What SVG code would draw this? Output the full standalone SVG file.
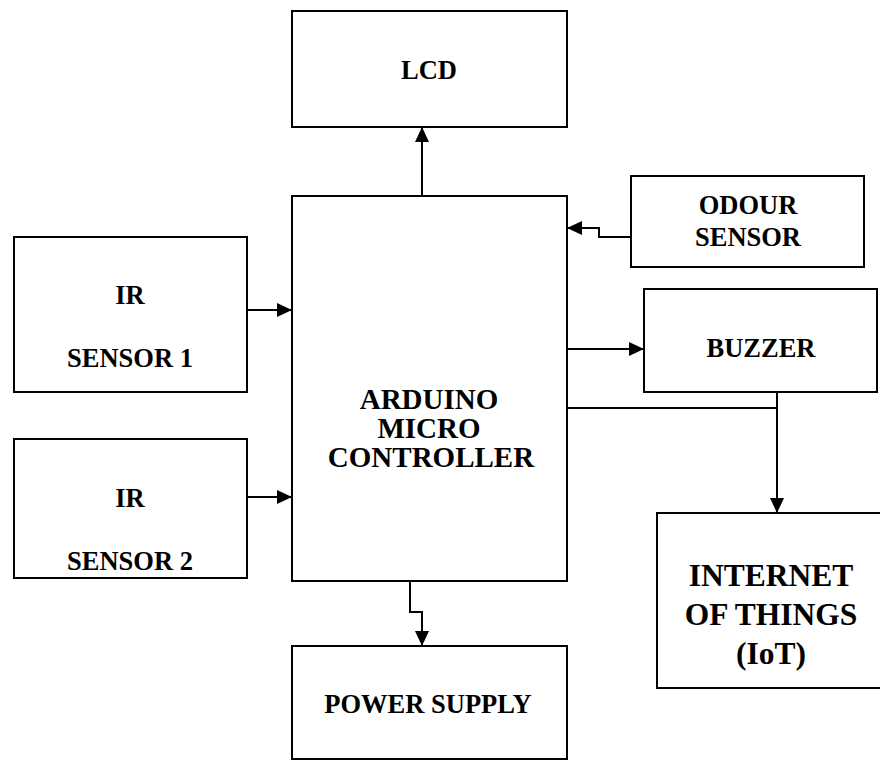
<svg xmlns="http://www.w3.org/2000/svg" width="880" height="761" viewBox="0 0 880 761">
<defs>
<style>
.box{fill:#fff;stroke:#000;stroke-width:2}
.lbl{font-family:"Liberation Serif","Times New Roman",serif;font-weight:bold;font-size:26.5px;text-anchor:middle;fill:#000}
.big{font-size:29px}
.iot{font-size:31.5px}
.con{fill:none;stroke:#000;stroke-width:2}
</style>
<marker id="arr" markerUnits="userSpaceOnUse" markerWidth="16" markerHeight="15" refX="15" refY="7" orient="auto">
<path d="M0,0 L15,7 L0,14 z" fill="#000"/>
</marker>
</defs>
<rect width="880" height="761" fill="#fff"/>
<g id="lcd">
<rect class="box" x="292" y="11" width="275" height="116"/>
<text class="lbl" x="429" y="79">LCD</text>
</g>
<g id="arduino">
<rect class="box" x="292" y="196" width="275" height="385"/>
<text class="lbl big" x="429" y="409">ARDUINO</text>
<text class="lbl big" x="429" y="438">MICRO</text>
<text class="lbl big" x="431" y="467">CONTROLLER</text>
</g>
<g id="odour">
<rect class="box" x="631" y="176" width="233" height="91"/>
<text class="lbl" x="748" y="214">ODOUR</text>
<text class="lbl" x="748" y="246">SENSOR</text>
</g>
<g id="ir1">
<rect class="box" x="14" y="237" width="233" height="155"/>
<text class="lbl" x="130" y="304">IR</text>
<text class="lbl" x="130" y="367">SENSOR 1</text>
</g>
<g id="ir2">
<rect class="box" x="14" y="439" width="233" height="139"/>
<text class="lbl" x="130" y="507">IR</text>
<text class="lbl" x="130" y="570">SENSOR 2</text>
</g>
<g id="buzzer">
<rect class="box" x="644" y="289" width="233" height="103"/>
<text class="lbl" x="761" y="357">BUZZER</text>
</g>
<g id="iot">
<rect class="box" x="657" y="513" width="230" height="175"/>
<text class="lbl iot" x="771" y="586">INTERNET</text>
<text class="lbl iot" x="771" y="625">OF THINGS</text>
<text class="lbl iot" x="771" y="664">(IoT)</text>
</g>
<g id="power">
<rect class="box" x="292" y="646" width="275" height="113"/>
<text class="lbl" x="428" y="713">POWER SUPPLY</text>
</g>
<g id="connectors">
<polyline class="con" points="422,196 422,127" marker-end="url(#arr)"/>
<polyline class="con" points="631,237 599,237 599,228 567,228" marker-end="url(#arr)"/>
<polyline class="con" points="247,310 292,310" marker-end="url(#arr)"/>
<polyline class="con" points="247,497 292,497" marker-end="url(#arr)"/>
<polyline class="con" points="567,349 644,349" marker-end="url(#arr)"/>
<polyline class="con" points="567,408 777,408"/>
<polyline class="con" points="777,392 777,513" marker-end="url(#arr)"/>
<polyline class="con" points="410,581 410,612 422,612 422,646" marker-end="url(#arr)"/>
</g>
</svg>
